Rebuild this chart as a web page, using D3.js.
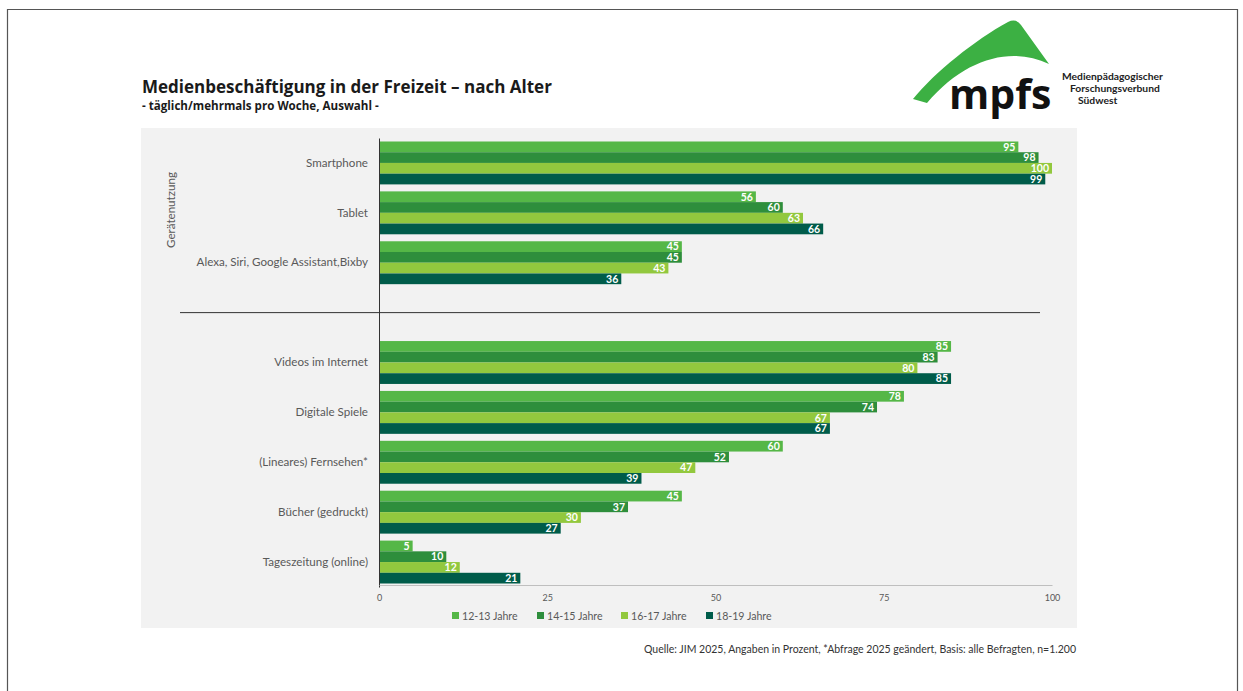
<!DOCTYPE html>
<html>
<head>
<meta charset="utf-8">
<script src="https://cdn.jsdelivr.net/npm/d3@7"></script>
<style>
  body { margin: 0; background: #fff; }
  svg { display: block; font-family: Lato, "Open Sans", sans-serif; }
</style>
</head>
<body>
<svg width="1243" height="691"></svg>
<script>
// categories (the empty "gap" slot holds the separator line)
var categories = ["Smartphone", "Tablet", "Alexa, Siri, Google Assistant,Bixby", "gap",
                  "Videos im Internet", "Digitale Spiele", "(Lineares) Fernsehen*",
                  "Bücher (gedruckt)", "Tageszeitung (online)"];
var series = ["12-13 Jahre", "14-15 Jahre", "16-17 Jahre", "18-19 Jahre"];
var seriesColors = ["#55b747", "#2e8e3c", "#92c83e", "#005c4a"];

var age12_13 = [95, 56, 45, null, 85, 78, 60, 45, 5];
var age14_15 = [98, 60, 45, null, 83, 74, 52, 37, 10];
var age16_17 = [100, 63, 43, null, 80, 67, 47, 30, 12];
var age18_19 = [99, 66, 36, null, 85, 67, 39, 27, 21];

var xTicks = [0, 25, 50, 75, 100];

var values = [age12_13, age14_15, age16_17, age18_19];
var rows = [];
categories.forEach((c, i) => {
    series.forEach((s, j) => {
        if (values[j][i] != null) rows.push({cat: c, s: s, si: j, v: values[j][i]});
    });
});

var svg = d3.select("svg");

// slide frame
svg.append("path")
    .attr("d", "M7.5,700 L7.5,9.5 L1237.5,9.5 L1237.5,700")
    .attr("fill", "none")
    .attr("stroke", "#555")
    .attr("stroke-width", 1.2);

// plot background
svg.append("rect")
    .attr("x", 141).attr("y", 128)
    .attr("width", 936).attr("height", 500)
    .attr("fill", "#f2f2f2");

// title
svg.append("text")
    .attr("x", 142).attr("y", 93)
    .attr("font-size", 17).attr("font-weight", "bold")
    .attr("font-family", "\"Open Sans\", sans-serif")
    .attr("fill", "#1a1a1a")
    .text("Medienbeschäftigung in der Freizeit – nach Alter");
svg.append("text")
    .attr("x", 142).attr("y", 110)
    .attr("font-size", 11.6).attr("font-weight", "bold")
    .attr("font-family", "\"Open Sans\", sans-serif")
    .attr("fill", "#1a1a1a")
    .text("- täglich/mehrmals pro Woche, Auswahl -");

// logo
var logo = svg.append("g");
logo.append("path")
    .attr("d", "M913,99 C935,72 975,40 1008,22 Q1016,18 1021,25 L1049,64 C1012,46 965,58 927,103 Z")
    .attr("fill", "#3cb043");
logo.append("text")
    .attr("x", 949).attr("y", 109)
    .attr("font-size", 41).attr("font-weight", "bold")
    .attr("font-family", "\"Open Sans\", sans-serif")
    .attr("fill", "#111")
    .text("mpfs");
[["Medienpädagogischer", 1062, 80], ["Forschungsverbund", 1070, 92], ["Südwest", 1078, 104]].forEach(t => {
    logo.append("text")
        .attr("x", t[1]).attr("y", t[2])
        .attr("font-size", 10.3).attr("font-weight", "bold")
        .attr("fill", "#222")
        .text(t[0]);
});

// scales
var x = d3.scaleLinear().domain([0, 100]).range([379, 1052]);
var y = d3.scaleBand().domain(categories).range([138, 587])
    .paddingInner(0.14).paddingOuter(0.07);
var ySub = d3.scaleBand().domain(series).range([0, y.bandwidth()]);
var color = d3.scaleOrdinal().domain(series).range(seriesColors);

// bars
svg.append("g").selectAll("rect")
    .data(rows)
    .enter()
    .append("rect")
        .attr("x", x(0))
        .attr("y", d => y(d.cat) + ySub(d.s))
        .attr("width", d => x(d.v) - x(0))
        .attr("height", ySub.bandwidth())
        .attr("fill", d => color(d.s));

// value labels
svg.append("g").selectAll("text")
    .data(rows)
    .enter()
    .append("text")
        .attr("x", d => x(d.v) - 3)
        .attr("y", d => y(d.cat) + ySub(d.s) + ySub.bandwidth() / 2)
        .attr("dy", "0.36em")
        .attr("text-anchor", "end")
        .attr("font-size", 10.5).attr("font-weight", "bold")
        .attr("fill", "#fff")
        .text(d => d.v);

// left axis with category labels
var yAxis = svg.append("g")
    .attr("transform", "translate(" + x(0) + ",0)")
    .call(d3.axisLeft(y).tickSize(0).tickSizeOuter(0).tickPadding(11)
        .tickFormat(d => d == "gap" ? "" : d));
yAxis.select(".domain").attr("stroke", "#333");
yAxis.selectAll("text")
    .attr("font-size", 11.6).attr("fill", "#595959")
    .attr("font-family", "Lato, sans-serif");

// bottom axis
var xAxis = svg.append("g")
    .attr("transform", "translate(0," + 585 + ")")
    .call(d3.axisBottom(x).tickValues(xTicks).tickSize(0).tickSizeOuter(0).tickPadding(10));
xAxis.select(".domain").attr("stroke", "#bfbfbf");
xAxis.selectAll("text")
    .attr("font-size", 9).attr("fill", "#595959")
    .attr("font-family", "Lato, sans-serif");

// separator between device use and media use
var gapMid = y("gap") + y.bandwidth() / 2;
svg.append("line")
    .attr("x1", 180).attr("x2", 1040)
    .attr("y1", gapMid).attr("y2", gapMid)
    .attr("stroke", "#333").attr("stroke-width", 1);

// group label
svg.append("text")
    .attr("transform", "translate(175,210) rotate(-90)")
    .attr("text-anchor", "middle")
    .attr("font-size", 11.6).attr("fill", "#595959")
    .text("Gerätenutzung");

// legend
var legendX = [452, 537, 621, 706];
var legend = svg.append("g").selectAll("g")
    .data(series)
    .enter()
    .append("g")
        .attr("transform", (d, i) => "translate(" + legendX[i] + ",616)");
legend.append("rect")
    .attr("x", 0).attr("y", -4)
    .attr("width", 7).attr("height", 7)
    .attr("fill", d => color(d));
legend.append("text")
    .attr("x", 10).attr("y", 0)
    .attr("dy", "0.35em")
    .attr("font-size", 10.6).attr("fill", "#595959")
    .text(d => d);

// source
svg.append("text")
    .attr("x", 1076).attr("y", 653)
    .attr("text-anchor", "end")
    .attr("font-size", 10.5).attr("fill", "#333")
    .text("Quelle: JIM 2025, Angaben in Prozent, *Abfrage 2025 geändert, Basis: alle Befragten, n=1.200");
</script>
</body>
</html>
